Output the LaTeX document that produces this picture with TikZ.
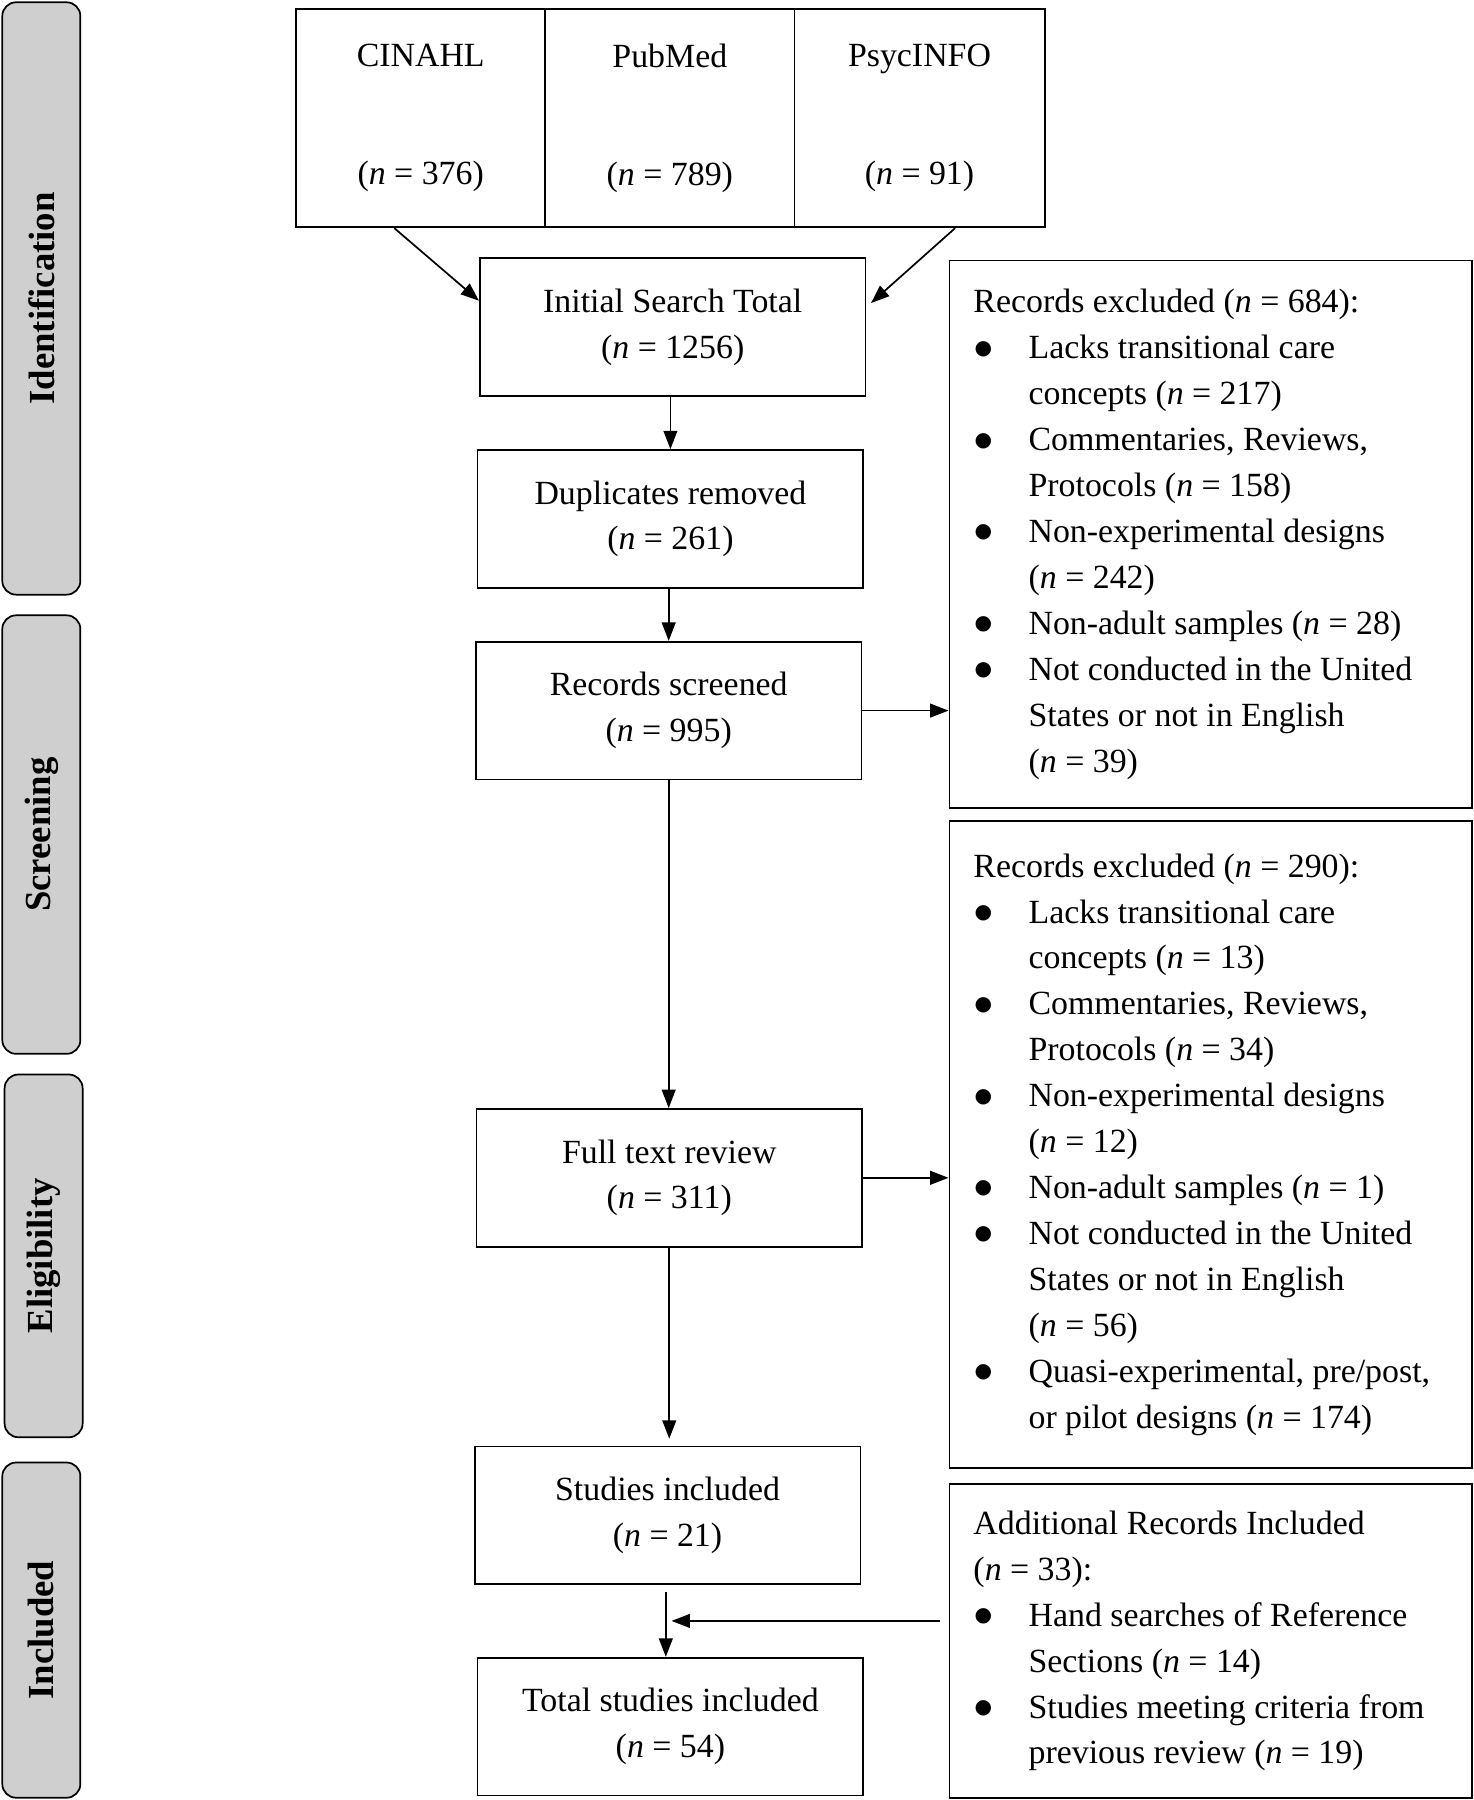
\documentclass[tikz,border=0pt]{standalone}
\usepackage{fontspec}
\setmainfont{Liberation Serif}
\newfontfamily\dvfont{DejaVu Sans}
\usetikzlibrary{arrows.meta,calc}
\definecolor{sidegray}{RGB}{207,207,207}
\newcommand{\nn}{\textit{n}}
\newcommand{\bl}{\makebox[48pt][l]{\hspace{1pt}\raisebox{4pt}{\fontsize{17.5}{17.5}\dvfont ●}}}
\newcommand{\cl}{\hspace*{48pt}}
\newcommand{\rs}{\spaceskip=0pt\xspaceskip=0pt\relax}
\begin{document}
\begin{tikzpicture}[x=1pt,y=-1pt,
  every node/.style={font=\fontsize{29.5}{40}\selectfont},
  box/.style={draw,line width=1.5pt,minimum width=336pt,minimum height=120pt,align=center,inner sep=0pt},
  src/.style={draw,line width=1.5pt,minimum width=217pt,minimum height=190pt,align=center,inner sep=0pt},
  exbox/.style={draw,line width=1.5pt,text width=413pt,inner xsep=21pt,inner ysep=0pt,align=left},
  sidebar/.style={draw,line width=1.5pt,fill=sidegray,rounded corners=12pt,rotate=90,minimum height=68pt,inner sep=0pt,font=\fontsize{32}{38}\selectfont\bfseries},
  arr/.style={line width=1.5pt,-{Triangle[length=16pt,width=12pt]}}]
\useasboundingbox (0,0) rectangle (1284,1568);
% side bars
\node[sidebar,minimum width=516pt] (idb) at (36,260) {Identification};
\node[sidebar,minimum width=382pt] (scb) at (36,727) {Screening};
\node[sidebar,minimum width=316pt] (elb) at (38,1094) {Eligibility};
\node[sidebar,minimum width=292pt] (inb) at (36,1420) {Included};
% sources
\node[src] (cinahl) at (366.5,103) {CINAHL\\[63pt](\nn{} = 376)};
\node[src] (pubmed) at (583.5,103) {PubMed\\[63pt](\nn{} = 789)};
\node[src,minimum width=218pt] (psyc) at (801,103) {PsycINFO\\[63pt](\nn{} = 91)};
% main column
\node[box] (init) at (586,285) {Initial Search Total\\(\nn{} = 1256)};
\node[box] (dup) at (584,452) {Duplicates removed\\(\nn{} = 261)};
\node[box] (scr) at (582.5,619) {Records screened\\(\nn{} = 995)};
\node[box] (full) at (583,1026) {Full text review\\(\nn{} = 311)};
\node[box] (stud) at (581.5,1320) {Studies included\\(\nn{} = 21)};
\node[box] (tot) at (584,1504) {Total studies included\\(\nn{} = 54)};
% exclusion boxes
\node[exbox,minimum height=477pt] (ex1) at (1054.5,465.5) {\rs Records excluded (\nn{} = 684):\\
\bl Lacks transitional care\\
\cl concepts (\nn{} = 217)\\
\bl Commentaries, Reviews,\\
\cl Protocols (\nn{} = 158)\\
\bl Non-experimental designs\\
\cl (\nn{} = 242)\\
\bl Non-adult samples (\nn{} = 28)\\
\bl Not conducted in the United\\
\cl States or not in English\\
\cl (\nn{} = 39)};
\node[exbox,minimum height=564pt] (ex2) at (1054.5,997) {\rs Records excluded (\nn{} = 290):\\
\bl Lacks transitional care\\
\cl concepts (\nn{} = 13)\\
\bl Commentaries, Reviews,\\
\cl Protocols (\nn{} = 34)\\
\bl Non-experimental designs\\
\cl (\nn{} = 12)\\
\bl Non-adult samples (\nn{} = 1)\\
\bl Not conducted in the United\\
\cl States or not in English\\
\cl (\nn{} = 56)\\
\bl Quasi-experimental, pre/post,\\
\cl or pilot designs (\nn{} = 174)};
\node[exbox,minimum height=273pt] (add) at (1054.5,1429.5) {\rs Additional Records Included\\
(\nn{} = 33):\\
\bl Hand searches of Reference\\
\cl Sections (\nn{} = 14)\\
\bl Studies meeting criteria from\\
\cl previous review (\nn{} = 19)};
% connectors
\draw[arr] ([xshift=-23pt]cinahl.south) -- ([yshift=23pt]init.west);
\draw[arr] ([xshift=31pt]psyc.south) -- ([xshift=4pt,yshift=21pt]init.east);
\draw[arr] (init.south -| dup.north) -- (dup.north);
\draw[arr] (dup.south -| scr.north) -- (scr.north);
\draw[arr] (scr.south) -- (scr.south |- full.north);
\draw[arr,shorten >=6pt] (full.south) -- (full.south |- stud.north);
\draw[arr,shorten <=6pt] ([xshift=-1.5pt]stud.south) -- ([xshift=-1.5pt]stud.south |- tot.north);
\coordinate (join) at ($(stud.south)!0.5!(stud.south |- tot.north)+(-1.5,0)$);
\draw[arr,shorten >=5pt] ([xshift=-7pt]add.west |- join) -- (join);
\draw[arr] (scr.east) -- (scr.east -| ex1.west);
\draw[arr] (full.east) -- (full.east -| ex2.west);
\end{tikzpicture}
\end{document}
